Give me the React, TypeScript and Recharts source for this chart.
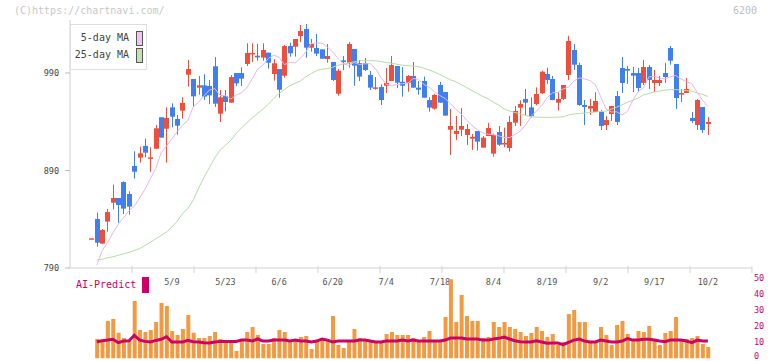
import React from 'react';
import { ComposedChart, Bar, Line, XAxis, YAxis } from 'recharts';

// ---- data (index 0 = 4/15 ... index 115 = 10/2) ----
const opens = [820.5,840.3,815.0,837.6,857.0,861.8,878.2,865.9,894.6,903.2,915.2,903.0,912.4,944.6,932.9,954.8,942.9,951.4,988.3,983.9,975.0,977.4,976.7,996.9,948.3,966.4,959.6,990.0,990.0,999.3,1009.9,1007.8,1005.8,1010.9,989.0,994.1,987.3,1017.7,1017.0,1028.0,1035.2,1016.0,1015.7,1014.3,1004.4,1001.3,968.8,1003.0,1000.0,1014.7,1000.3,1000.3,988.0,974.3,975.7,977.0,981.8,997.2,981.1,980.1,987.0,975.0,981.8,962.3,953.5,977.7,970.5,931.9,927.5,931.9,926.4,922.7,930.5,913.5,925.4,907.3,929.5,917.6,913.1,939.1,954.5,963.4,954.8,958.2,969.2,989.0,983.9,959.6,963.4,988.0,1013.6,998.2,957.2,953.5,950.0,950.0,936.7,948.0,966.4,995.2,994.1,990.0,990.0,979.8,996.2,979.8,979.8,990.0,1015.7,999.3,967.8,969.5,943.9,936.7,955.2,937.7];
const closes = [820.5,816.0,829.0,847.5,861.8,854.6,850.9,852.9,888.8,907.6,908.3,903.5,933.3,923.7,943.9,945.2,936.0,959.3,994.1,966.1,977.4,965.8,967.1,958.6,965.1,960.3,985.9,979.4,984.2,1010.6,1010.6,1006.1,1013.6,1000.6,1000.0,972.9,1017.7,1010.2,1024.9,1033.1,1016.0,1019.8,1009.9,1004.7,1007.5,982.9,992.4,1001.3,1019.8,997.6,986.3,993.1,975.0,975.3,962.3,979.8,998.2,980.1,977.0,987.0,975.0,972.9,964.7,954.5,967.5,959.6,946.3,935.7,930.5,935.7,932.6,924.4,919.6,923.7,933.6,926.4,916.5,918.2,939.8,951.1,958.2,959.6,945.9,968.5,991.4,982.9,962.3,963.4,977.7,1022.9,998.6,957.2,955.2,956.2,961.3,935.7,941.8,956.2,939.8,979.8,992.4,987.3,974.7,996.2,982.9,982.9,982.9,985.9,1002.7,964.4,969.5,973.6,940.8,962.3,931.6,939.8];
const highs = [820.5,846.8,830.0,850.5,875.5,861.8,878.9,868.7,909.7,914.5,922.7,913.8,936.7,944.6,954.8,958.9,947.0,965.1,1003.4,983.9,987.0,988.7,982.9,1006.4,972.6,972.6,988.0,990.0,995.9,1020.5,1020.5,1019.8,1020.5,1010.9,1004.1,994.1,1018.8,1021.2,1024.9,1039.3,1040.3,1024.9,1030.0,1014.3,1019.8,1001.3,994.1,1007.5,1021.8,1014.7,1003.4,1005.4,992.1,985.9,978.4,995.2,1007.5,997.2,996.2,988.0,1001.3,981.8,986.3,965.1,968.8,980.8,970.5,953.1,945.9,954.1,937.7,927.5,930.5,925.4,938.8,927.8,935.7,934.0,945.9,956.2,962.0,973.6,965.1,975.3,992.4,995.5,987.0,970.2,977.7,1028.3,1019.8,1000.6,962.3,963.4,970.5,952.1,945.9,956.2,971.6,1006.4,997.2,996.2,995.2,1003.4,998.2,993.1,987.0,1000.3,1017.7,999.3,973.6,984.9,950.0,963.4,955.2,944.9];
const lows = [820.5,811.9,815.0,827.3,850.2,836.5,845.4,844.7,881.7,898.1,903.5,888.8,912.4,923.7,898.1,934.3,926.8,943.2,976.0,955.2,967.8,962.3,958.2,955.2,939.8,950.7,959.6,976.7,976.7,997.2,1001.3,1002.7,1002.7,994.5,982.2,964.7,985.3,1006.8,1006.8,1021.8,1005.8,1011.9,1007.5,1004.7,1000.6,981.8,966.8,993.1,995.5,977.0,981.8,992.1,972.6,972.9,957.2,969.5,981.8,974.7,965.8,970.9,975.0,967.8,964.7,950.4,952.4,959.6,946.3,905.9,921.3,925.4,916.2,911.1,910.4,913.5,925.4,904.2,915.2,913.8,909.4,935.7,935.7,946.6,944.2,956.9,968.5,978.8,962.3,951.4,962.3,982.9,993.1,956.2,936.7,947.0,950.0,931.6,931.6,940.8,936.7,969.5,978.8,970.5,970.5,977.7,973.6,970.5,976.7,979.8,998.6,953.1,960.3,969.5,938.8,931.6,928.5,926.4];
const ma5 = [null,793,808,816,826,835.0,841.8,848.8,853.5,861.8,871.0,881.7,892.2,908.3,915.3,922.5,929.9,936.4,941.6,955.7,960.1,966.6,972.5,974.1,967.0,966.8,963.4,967.4,969.9,975.0,984.1,994.1,998.2,1005.0,1008.3,1006.2,998.6,1001.0,1000.3,1005.1,1011.8,1020.4,1020.8,1020.7,1016.7,1011.6,1005.0,999.5,997.8,1000.8,998.8,999.5,999.6,994.4,985.5,978.4,977.1,978.1,979.1,979.5,984.4,983.5,978.4,975.3,970.8,966.9,963.8,958.5,952.7,947.9,941.6,936.2,931.8,928.6,927.2,926.8,925.5,924.0,923.7,926.9,930.4,936.8,945.4,950.9,956.7,964.7,969.7,970.2,973.7,975.5,981.8,985.0,984.0,982.3,978.0,965.7,953.1,950.0,950.2,947.0,950.7,962.0,971.1,974.8,986.1,986.7,984.8,983.9,986.2,987.5,983.8,981.1,979.2,970.2,962.1,955.6];
const ma25 = [null,798,799,800.5,801.5,803,804.5,806,808,810,813,816.5,820,823.5,827,832,838,846,851,860,872,883,893,903,911,916,921,928,934,939,944,948.5,953,958,964,969,973,977,979.5,982,986,989.5,992.5,994,994.5,996,998,999.5,1000.5,1001.5,1002.5,1002.7,1002.7,1002.6,1001.8,1000.8,1000,999,998,997.5,997,996.5,995,993,991,988.5,985.5,983,981,978,975,972,969,966,963.5,960,957,953,951,949.5,948,946.5,945,944.8,944.6,944.5,944.6,944.8,945,947,948,948.5,949,949.5,950,950.5,951,953,955,957.5,960,962,964.5,967.5,969,970.5,971.5,972.5,973,973,972.5,972,971.5,969.5,968,966];
const volume = [null,12.2,10.9,23.4,24.7,16.1,12.8,11.3,35.9,17.8,16.5,17.8,22.8,34.7,32.8,17.2,14.7,18.4,27.2,16.1,12.8,12.8,14.1,16.5,12.2,10.9,10.9,4.7,12.2,16.5,19.7,14.7,9.1,9.1,12.8,17.8,16.5,10.9,10.9,13.4,14.1,5.9,10.9,12.2,10.9,26.5,8.4,6.5,10.9,18.4,12.8,12.2,11.5,10.9,10.9,15.3,16.5,14.7,14.7,14.7,12.8,10.3,13.4,17.2,10.9,10.9,25.9,49.5,22.8,39.7,26.5,23.4,23.4,12.8,13.4,22.8,19.7,22.8,19.7,18.4,16.5,14.1,15.9,19.7,17.2,13.4,15.3,8.4,10.3,27.8,30.3,22.8,22.8,10.9,10.9,19.7,14.7,8.4,20.9,23.4,15.3,10.9,17.2,16.5,20.3,10.9,8.4,15.9,17.2,25.9,10.9,12.2,12.8,14.1,9.1,7.2];
const aiPredict = [null,10.5,11.1,11.5,12.0,9.9,10.9,11.1,14.5,11.5,10.7,10.3,11.3,12.0,13.6,10.3,10.3,10.3,11.3,10.5,10.3,9.9,9.7,10.3,10.7,10.7,10.7,10.7,11.5,11.5,10.9,12.2,10.9,10.9,11.5,11.5,11.5,10.9,11.5,10.9,10.9,10.3,10.9,12.2,11.5,10.3,10.9,10.9,10.9,10.9,11.5,11.5,10.9,10.3,10.3,10.9,10.9,10.9,11.5,10.9,11.5,10.9,10.9,10.9,10.9,10.9,11.5,12.8,12.8,12.8,12.2,12.2,12.2,11.5,11.5,12.2,12.6,13.4,12.2,11.1,10.5,10.3,10.3,11.1,10.3,9.5,9.7,9.7,8.6,10.1,11.5,12.2,10.9,10.3,10.3,11.5,10.9,10.3,10.3,10.9,12.4,11.5,11.5,12.0,12.0,11.5,10.9,10.5,11.5,11.5,11.5,10.9,9.9,11.5,10.9,10.9];

const dateLabelIdx = [15,25,35,45,55,65,75,85,95,105,115];
const dateLabels = ['5/9','5/23','6/6','6/20','7/4','7/18','8/4','8/19','9/2','9/17','10/2'];
const gridTicks = [7.56,19.13,30.69,42.26,53.82,65.39,76.96,88.52,100.09,111.66,123.22];
const priceTicks = [790,890,990];
const volTicks = [0,10,20,30,40,50];

const X_DOMAIN: [number, number] = [-4.01, 123.23];
const RED = '#f04e3c';
const BLUE = '#3f7fee';
const FONT = '"DejaVu Sans Mono", monospace';

const rows = closes.map((c, i) => ({
  i,
  open: opens[i],
  close: c,
  high: highs[i],
  low: lows[i],
  ma5: ma5[i],
  ma25: ma25[i],
  vol: volume[i],
  ai: aiPredict[i],
}));

const allXTicks = [...gridTicks, ...dateLabelIdx].sort((a, b) => a - b);

const Candle = (props: any) => {
  const { x, y, width, height, payload } = props;
  if (payload == null || x == null) return null;
  const { open, close, high, low } = payload;
  const cx = Math.round(x + width / 2);
  const range = high - low;
  const h = height || 0;
  const py = (v: number) => (range === 0 ? y : y + ((high - v) / range) * h);
  const up = close >= open;
  const color = up ? RED : BLUE;
  const top = py(Math.max(open, close));
  const bot = py(Math.min(open, close));
  const bh = Math.max(1.5, bot - top);
  return (
    <g>
      {range > 0 && <rect x={cx} y={y} width={1} height={h} fill={color} />}
      <rect x={cx - 2} y={top} width={5} height={bh} fill={color} />
    </g>
  );
};

const AXIS_Y = 268;

const XTick = (props: any) => {
  const { x, payload } = props;
  const v = payload.value;
  const k = dateLabelIdx.indexOf(v);
  if (k >= 0) {
    return (
      <text x={x} y={AXIS_Y + 17} textAnchor="middle" fontSize={8.5} fontFamily={FONT} fill="#555">
        {dateLabels[k]}
      </text>
    );
  }
  return <line x1={x} x2={x} y1={AXIS_Y - 2} y2={AXIS_Y + 5} stroke="#d4d4d4" strokeWidth={1} />;
};

const VolTick = (props: any) => {
  const { x, y, payload } = props;
  const yy = payload.value === 0 ? Math.min(y, 96) : y;
  return (
    <text x={x} y={yy} dy="0.35em" textAnchor="start" fontSize={8.5} fontFamily={FONT} fill="#c8006a">
      {payload.value}
    </text>
  );
};

export default function App() {
  return (
    <div style={{ position: 'absolute', left: 0, top: 0, width: 772, height: 361, background: '#fff', overflow: 'hidden' }}>
      <div style={{ position: 'absolute', left: 0, top: 0 }}>
        <ComposedChart width={772} height={295} data={rows} margin={{ top: 20, right: 20, bottom: 7, left: 0 }}>
          <XAxis
            dataKey="i"
            type="number"
            domain={X_DOMAIN}
            allowDataOverflow
            ticks={allXTicks}
            height={20}
            axisLine={{ stroke: '#d0d0d0' }}
            tickLine={false}
            tick={<XTick />}
            interval={0}
          />
          <YAxis
            type="number"
            domain={[790, 1044.4]}
            allowDataOverflow
            ticks={priceTicks}
            width={70}
            axisLine={{ stroke: '#d0d0d0' }}
            tickLine={{ stroke: '#bbb' }}
            tickSize={5}
            tickMargin={6}
            interval={0}
            tick={{ fontSize: 8.5, fontFamily: FONT, fill: '#444' }}
          />
          <Line dataKey="ma25" stroke="#b6dca8" strokeWidth={1} dot={false} isAnimationActive={false} connectNulls={false} />
          <Line dataKey="ma5" stroke="#e8b6ea" strokeWidth={1} dot={false} isAnimationActive={false} connectNulls={false} />
          <Bar
            dataKey={(d: any) => [d.low, d.high]}
            barSize={5}
            shape={<Candle />}
            isAnimationActive={false}
          />
        </ComposedChart>
      </div>

      <div style={{ position: 'absolute', left: 0, top: 260 }}>
        <ComposedChart width={772} height={101} data={rows} margin={{ top: 8, right: 0, bottom: 2.5, left: 70 }}>
          <XAxis dataKey="i" type="number" domain={X_DOMAIN} allowDataOverflow hide />
          <YAxis
            orientation="right"
            type="number"
            domain={[0, 56.56]}
            allowDataOverflow
            ticks={volTicks}
            interval={0}
            width={20}
            axisLine={false}
            tickLine={false}
            tickSize={0}
            tickMargin={2}
            tick={<VolTick />}
          />
          <Bar dataKey="vol" fill="#f29a42" barSize={4} isAnimationActive={false} />
          <Line dataKey="ai" stroke="#cc0066" strokeWidth={3} dot={false} isAnimationActive={false} type="linear" />
        </ComposedChart>
      </div>

      <div style={{ position: 'absolute', left: 14, top: 5, fontFamily: FONT, fontSize: 10, color: '#c8c8c8', whiteSpace: 'nowrap' }}>
        (C)https://chartnavi.com/
      </div>
      <div style={{ position: 'absolute', left: 733, top: 5, fontFamily: FONT, fontSize: 10, color: '#c0c0c0' }}>6200</div>

      <div style={{ position: 'absolute', left: 70, top: 24, width: 77, height: 46, border: '1px solid #dedede', background: '#fff', boxSizing: 'border-box' }}>
        <div style={{ position: 'absolute', right: 17, top: 8, fontFamily: FONT, fontSize: 10, color: '#444', whiteSpace: 'nowrap', lineHeight: '10px' }}>5-day MA</div>
        <div style={{ position: 'absolute', left: 65, top: 6, width: 7, height: 15, background: '#f0c4f0', border: '1px solid #555', boxSizing: 'border-box' }} />
        <div style={{ position: 'absolute', right: 17, top: 25, fontFamily: FONT, fontSize: 10, color: '#444', whiteSpace: 'nowrap', lineHeight: '10px' }}>25-day MA</div>
        <div style={{ position: 'absolute', left: 65, top: 23, width: 7, height: 15, background: '#c2e2b4', border: '1px solid #555', boxSizing: 'border-box' }} />
      </div>

      <div style={{ position: 'absolute', left: 76, top: 280, fontFamily: FONT, fontSize: 10, color: '#cc0066', whiteSpace: 'nowrap', lineHeight: '10px' }}>AI-Predict</div>
      <div style={{ position: 'absolute', left: 142, top: 277, width: 7, height: 16, background: '#cc0066' }} />
    </div>
  );
}
